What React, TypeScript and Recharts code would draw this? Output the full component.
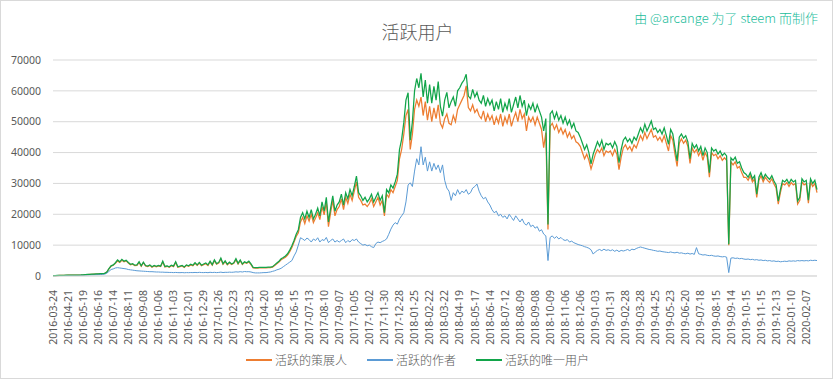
import React from 'react';
import { LineChart, Line, XAxis, YAxis, CartesianGrid } from 'recharts';

const tickLabels = [
  '2016-03-24','2016-04-21','2016-05-19','2016-06-16','2016-07-14','2016-08-11','2016-09-08','2016-10-06','2016-11-03','2016-12-01','2016-12-29',
  '2017-01-26','2017-02-23','2017-03-23','2017-04-20','2017-05-18','2017-06-15','2017-07-13','2017-08-10','2017-09-07','2017-10-05','2017-11-02','2017-11-30','2017-12-28',
  '2018-01-25','2018-02-22','2018-03-22','2018-04-19','2018-05-17','2018-06-14','2018-07-12','2018-08-09','2018-09-08','2018-10-09','2018-11-06','2018-12-06',
  '2019-01-03','2019-01-31','2019-02-28','2019-03-28','2019-04-25','2019-05-23','2019-06-20','2019-07-18','2019-08-15','2019-09-14','2019-10-15','2019-11-15','2019-12-13',
  '2020-01-10','2020-02-07',
];

const seriesNames = ['活跃的策展人', '活跃的作者', '活跃的唯一用户'];
const seriesColors = ['#ED7D31', '#5B9BD5', '#12A54A'];
const yTicks = [0, 10000, 20000, 30000, 40000, 50000, 60000, 70000];

const curators = [
  110,140,160,190,205,225,235,
  245,255,275,285,295,305,320,
  360,430,480,520,560,600,640,
  680,720,760,860,1250,2300,3200,
  3500,4100,4900,4400,5100,4600,4900,
  4200,3650,3850,3350,3450,4400,3150,
  4300,3250,3050,3450,2850,3250,2950,
  3250,3050,4550,2950,3150,2850,3350,
  3050,4400,2850,3050,3250,2750,3450,
  3150,3600,3350,4100,3450,4200,3350,
  3700,4000,3400,4550,3500,4950,3800,
  4200,5500,3800,4650,3600,4300,3700,
  4100,5300,3900,4950,3700,4400,4100,
  4550,3700,2650,2550,2550,2650,2650,
  2650,2650,2750,2750,2850,3400,3950,
  4500,5250,5650,6100,6800,7900,9200,
  11000,12800,14000,17500,19000,17000,19500,
  17800,20000,17300,18800,20500,18300,22500,
  19800,24000,16000,20500,24500,19500,21500,
  22500,25000,21500,25500,23500,26500,24500,
  27500,30500,25500,24500,23000,23300,22500,
  23500,25000,22500,24000,25500,23000,24500,
  19500,26500,25500,28000,27000,29000,31000,
  38000,41000,46000,52000,54000,41000,46000,
  54000,57000,55000,58000,52000,56500,50500,
  55000,50000,54500,51000,55500,49500,48000,
  51000,52500,49500,49000,52000,50000,54000,
  55500,57000,58500,61600,54600,53500,55500,
  53000,54000,52000,51000,53500,50000,52500,
  50500,52000,49000,51500,49500,52500,48500,
  51500,49500,52500,48500,51000,53000,50000,
  54000,51000,52500,47000,51500,50000,51500,
  49000,51500,49500,47500,41600,46500,15100,
  48500,49500,47500,49000,46500,48000,46000,
  47500,45000,46500,44500,45500,43500,43000,
  42000,40000,38000,39500,37500,34700,37000,
  39500,41000,40000,41500,39000,40500,40000,
  40500,39000,41000,39500,34500,38500,41500,
  42500,41000,42000,40500,42500,41500,43500,
  45500,44000,46500,44500,46000,47500,45000,
  45500,44000,45000,43500,45500,43000,40500,
  45500,44000,39500,35500,43000,44500,43000,
  44000,42000,36500,41500,40000,41000,39000,
  40500,37500,40000,38500,32000,40000,39000,
  39500,38000,39000,37500,38300,37500,10000,
  37000,36000,37000,35000,35500,33500,32000,
  32000,31000,32500,30500,31500,25500,31000,
  32500,30500,32000,31000,30300,31500,29800,
  28500,23300,27000,30000,29500,30300,29000,
  30300,29500,30000,23300,24500,30500,29500,
  30000,23600,30500,29000,30000,27000,
];

const authors = [
  90,110,120,140,150,160,170,
  175,180,190,195,200,210,220,
  250,300,330,360,390,410,430,
  450,480,520,600,900,1500,2100,
  2300,2600,2700,2600,2500,2400,2300,
  2100,2000,1900,1800,1700,1650,1600,
  1550,1500,1450,1400,1400,1350,1300,
  1300,1250,1250,1200,1200,1150,1150,
  1100,1150,1100,1080,1120,1050,1100,
  1080,1120,1100,1150,1100,1180,1120,
  1100,1150,1080,1200,1120,1180,1100,
  1150,1250,1120,1200,1180,1250,1200,
  1250,1350,1280,1400,1300,1450,1380,
  1400,1300,1100,1000,1000,1000,1050,
  1100,1100,1200,1300,1500,1700,2000,
  2200,2500,3000,3500,4000,4500,5000,
  6500,7800,10000,12400,12000,11500,12300,
  11800,11000,12000,11500,12400,11000,11800,
  11500,12500,10800,11500,12000,11000,11500,
  11000,11500,12000,10800,11500,11000,11800,
  11500,12000,11000,10500,10000,10200,9800,
  10000,9500,9200,10500,11000,10800,11200,
  11500,12000,13500,15200,16500,17300,16800,
  18500,19500,20500,24000,29500,30200,29000,
  34000,38000,36000,41900,36000,38500,34000,
  37000,34000,36500,34500,36000,33500,36000,
  31000,28500,27500,24500,27000,26000,28000,
  26500,27500,27000,28000,26500,27000,28500,
  29000,29800,27500,26000,25000,25500,24000,
  23000,21500,20500,21000,19500,20000,19000,
  19500,18500,20000,19000,18000,19500,18500,
  17500,18500,17000,16500,17500,16000,16500,
  15500,16000,14500,15000,13600,13000,5000,
  12500,13000,12200,12800,12000,12500,11800,
  11500,11800,11000,11300,10800,10500,10200,
  10000,9800,9500,9300,9000,8500,7100,
  7800,8300,8600,8200,8700,8300,8500,
  8200,8500,8000,8400,7900,8300,8100,
  8300,8600,8200,8700,8500,8900,9200,
  9400,9200,9000,8800,8600,8500,8300,
  8200,8000,8100,7900,7800,7700,7600,
  7800,7600,7500,7700,7400,7500,7300,
  7200,7400,7100,7300,7000,9200,7200,
  7000,6800,6900,6700,6600,6700,6500,
  6400,6500,6300,6200,6300,6100,1100,
  5800,5900,5700,5800,5600,5700,5500,
  5400,5500,5300,5400,5200,5300,5100,
  5200,5000,5100,4900,5000,4800,4900,
  4700,4800,4600,4700,4800,4700,4900,
  4800,4900,4800,5000,4900,5000,4900,
  5000,4900,5100,5000,5100,5000,
];

const uniqueUsers = [
  120,150,170,200,220,240,250,
  260,270,290,300,310,320,340,
  380,450,500,540,580,620,660,
  700,740,780,880,1300,2400,3300,
  3600,4300,5200,4600,5400,4800,5100,
  4400,3800,4000,3500,3600,4600,3300,
  4500,3400,3200,3600,3000,3400,3100,
  3400,3200,4800,3100,3300,3000,3500,
  3200,4600,3000,3200,3400,2900,3600,
  3300,3800,3500,4300,3600,4400,3500,
  3900,4200,3600,4800,3700,5200,4000,
  4400,5800,4000,4900,3800,4500,3900,
  4300,5600,4100,5200,3900,4600,4300,
  4800,3900,2800,2700,2700,2800,2800,
  2800,2800,2900,2900,3000,3600,4200,
  4800,5600,6000,6500,7200,8400,9800,
  11500,13500,15000,19000,20500,18500,21000,
  19000,21500,18500,20000,22000,19500,24000,
  21000,25500,17500,22000,26000,21000,23000,
  24000,26500,23000,27000,25000,28000,26000,
  29000,32400,27000,26000,24500,25500,24000,
  25000,26500,24000,25500,27000,24500,26000,
  20500,28000,27000,29500,28500,30500,33000,
  41000,44300,49700,57000,59400,44000,50000,
  60000,64000,61000,65700,58000,63500,56000,
  62000,56000,61500,57000,63000,55000,51800,
  57000,59500,54500,56500,58000,55000,60000,
  61000,62500,63500,65400,58300,57500,60500,
  58000,59500,57000,56000,58500,55000,57500,
  55500,57000,53500,56500,54000,57500,53000,
  56000,54000,57500,53000,55500,58000,54500,
  58500,55000,57000,52000,55500,54000,56000,
  53000,55500,53500,51500,47000,51000,16700,
  52500,53500,51000,53000,50500,52000,49500,
  51500,49000,50500,48000,49500,47000,46500,
  45000,43000,41000,42500,40000,36300,39500,
  41500,43500,42000,44000,41000,43000,42500,
  43000,41500,43500,42000,36700,41000,44000,
  45000,43500,44500,43000,45000,44000,46000,
  48000,46500,49200,47000,48500,50200,47500,
  48000,46500,47500,46000,48000,45500,42700,
  47500,46000,41500,37300,45000,46000,44700,
  45500,43500,38000,43000,41500,42500,40500,
  42000,39000,41500,40000,33500,41500,40500,
  41000,39500,40500,39000,39800,38900,10300,
  38300,37500,38500,36500,37000,35000,33500,
  33000,32000,33500,31500,32500,26500,32000,
  33500,31500,33000,32000,31300,32500,30800,
  29500,24300,28000,31000,30500,31300,30000,
  31300,30500,31000,24300,25500,31500,30500,
  31000,24600,31500,30000,31000,28000,
];

const POINTS_PER_TICK = 7;

const data = uniqueUsers.map((u, i) => ({
  idx: i,
  curators: curators[i],
  authors: authors[i],
  unique: u,
}));

const FONT = '"Noto Sans", "Noto Sans CJK SC", sans-serif';
const CJK = '"Noto Sans CJK SC", "Noto Sans", sans-serif';

const RotTick = (props: any) => {
  const { x, y, payload } = props;
  const label = tickLabels[Math.round(payload.value / POINTS_PER_TICK)] || '';
  return (
    <g transform={`translate(${x},${y + 6}) rotate(-90)`}>
      <text x={0} y={0} dy="0.35em" textAnchor="end" fill="#595959" fontSize={10.5} fontFamily={FONT}>
        {label}
      </text>
    </g>
  );
};

const keys = ['curators', 'authors', 'unique'];

export default function App() {
  return (
    <div
      style={{
        position: 'absolute',
        left: 0,
        top: 0,
        width: 833,
        height: 379,
        boxSizing: 'border-box',
        border: '1px solid #d9d9d9',
        background: '#fff',
        overflow: 'hidden',
      }}
    >
      <div
        style={{
          position: 'absolute',
          left: 0,
          top: 0,
          width: 833,
          height: 379,
        }}
      >
        <LineChart
          width={833}
          height={379}
          data={data}
          margin={{ top: 59, right: 17, left: 0, bottom: 34 }}
        >
          <CartesianGrid vertical={false} stroke="#d9d9d9" strokeWidth={1} />
          <XAxis
            dataKey="idx"
            type="category"
            interval={POINTS_PER_TICK - 1}
            tick={<RotTick />}
            tickLine={false}
            axisLine={{ stroke: '#d9d9d9' }}
            height={70}
          />
          <YAxis
            domain={[0, 70000]}
            ticks={yTicks}
            width={52}
            axisLine={false}
            tickLine={false}
            tickSize={0}
            tickMargin={12}
            tick={{ fill: '#595959', fontSize: 10.5, fontFamily: FONT }}
          />
          {keys.map((k, i) => (
            <Line
              key={k}
              type="linear"
              dataKey={k}
              name={seriesNames[i]}
              stroke={seriesColors[i]}
              strokeWidth={i === 1 ? 1 : 1.25}
              dot={false}
              isAnimationActive={false}
            />
          ))}
        </LineChart>
      </div>
      <div
        style={{
          position: 'absolute',
          left: 0,
          width: 833,
          top: 20,
          textAlign: 'center',
          fontFamily: CJK,
          fontSize: 18,
          fontWeight: 300,
          lineHeight: '20px',
          color: '#595959',
        }}
      >
        活跃用户
      </div>
      <div
        style={{
          position: 'absolute',
          right: 14,
          top: 9,
          fontFamily: CJK,
          fontSize: 13,
          fontWeight: 300,
          lineHeight: '16px',
          color: '#1BBC9B',
          whiteSpace: 'pre',
        }}
      >
        由 @arcange 为了 steem 而制作
      </div>
      <div
        style={{
          position: 'absolute',
          left: 0,
          width: 833,
          top: 350,
          display: 'flex',
          justifyContent: 'center',
          gap: 20,
          fontFamily: CJK,
          fontSize: 12,
          fontWeight: 300,
          lineHeight: '18px',
          color: '#595959',
        }}
      >
        {seriesNames.map((n, i) => (
          <div key={n} style={{ display: 'flex', alignItems: 'center' }}>
            <div style={{ width: 26, height: 1.5, background: seriesColors[i], marginRight: 3 }} />
            <span>{n}</span>
          </div>
        ))}
      </div>
    </div>
  );
}
